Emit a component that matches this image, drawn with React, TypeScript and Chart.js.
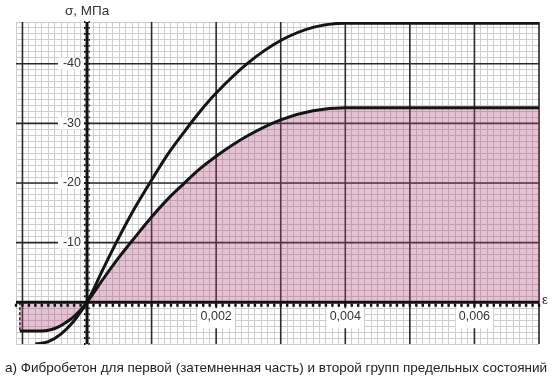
import React, { useEffect, useRef } from "react";
import { Chart, registerables } from "chart.js";

Chart.register(...registerables);

// strain (ε) and stress (σ, MPa) — first group (shaded) curve
const firstGroupStrain = [-0.00104, -0.0007, -0.0006, -0.0005, -0.0004, -0.0003, -0.0002, -0.0001, 0, 0.00025, 0.0005, 0.00075, 0.001, 0.00125, 0.0015, 0.00175, 0.002, 0.0025, 0.003, 0.0035, 0.004, 0.007];
const firstGroupStress = [4.8, 4.8, 4.7, 4.4, 3.9, 3.2, 2.35, 1.3, 0, -3.9, -7.6, -11.0, -14.3, -17.3, -19.9, -22.4, -24.5, -28.0, -30.6, -32.1, -32.6, -32.6];

// second group curve
const secondGroupStrain = [-0.0008, -0.0006, -0.0004, -0.0002, -0.0001, 0, 0.00025, 0.0005, 0.00075, 0.001, 0.00125, 0.0015, 0.00175, 0.002, 0.0025, 0.003, 0.0035, 0.004, 0.007];
const secondGroupStress = [7.0, 6.6, 5.3, 3.1, 1.6, 0, -5.6, -11.0, -16.0, -20.5, -24.8, -28.5, -32.0, -35.1, -40.2, -43.9, -46.1, -46.8, -46.8];

const xTickValues = [0.002, 0.004, 0.006];
const xTickLabels = ["0,002", "0,004", "0,006"];
const yTickValues = [-40, -30, -20, -10];
const yTickLabels = ["-40", "-30", "-20", "-10"];

const caption = "а) Фибробетон для первой (затемненная часть) и второй групп предельных состояний";
const xAxisTitle = "ε";
const yAxisTitle = "σ, МПа";

const FONT = "Arial, 'Liberation Sans', sans-serif";

const isMultiple = (v: number, step: number) => Math.abs(v / step - Math.round(v / step)) < 1e-6;

export default function App() {
  const ref = useRef<HTMLCanvasElement | null>(null);

  useEffect(() => {
    const canvas = ref.current;
    if (!canvas) return;

    const majorGrid = {
      id: "majorGrid",
      beforeDatasetsDraw(chart: any) {
        const { ctx, chartArea } = chart;
        const xs = chart.scales.x;
        const ys = chart.scales.y;
        ctx.save();
        ctx.strokeStyle = "#2a2a2a";
        ctx.lineWidth = 1.6;
        xs.ticks.forEach((t: any) => {
          if (!isMultiple(t.value, 0.001)) return;
          const px = xs.getPixelForValue(t.value);
          ctx.beginPath();
          ctx.moveTo(px, chartArea.top);
          ctx.lineTo(px, chartArea.bottom);
          ctx.stroke();
        });
        ys.ticks.forEach((t: any) => {
          if (!isMultiple(t.value, 10)) return;
          const py = ys.getPixelForValue(t.value);
          ctx.beginPath();
          ctx.moveTo(chartArea.left, py);
          ctx.lineTo(chartArea.right, py);
          ctx.stroke();
        });
        ctx.restore();
      },
    };

    const decorations = {
      id: "decorations",
      afterDatasetsDraw(chart: any) {
        const { ctx, chartArea } = chart;
        const xs = chart.scales.x;
        const ys = chart.scales.y;
        const x0 = xs.getPixelForValue(0);
        const y0 = ys.getPixelForValue(0);
        ctx.save();
        // dashed left edge of shaded region
        ctx.strokeStyle = "#222";
        ctx.lineWidth = 1.5;
        ctx.setLineDash([3, 2]);
        const dx = xs.getPixelForValue(firstGroupStrain[0]);
        ctx.beginPath();
        ctx.moveTo(dx, y0);
        ctx.lineTo(dx, ys.getPixelForValue(firstGroupStress[0]));
        ctx.stroke();
        ctx.setLineDash([]);

        // axes
        ctx.fillStyle = "#111";
        ctx.fillRect(chartArea.left, y0 - 1.5, chartArea.right - chartArea.left, 3);
        ctx.fillRect(x0 - 1.5, chartArea.top, 3, chartArea.bottom - chartArea.top);
        // tick marks on axes (minor steps)
        for (let i = -11; i <= 70; i++) {
          const px = xs.getPixelForValue(i * 0.0001);
          if (px < chartArea.left || px > chartArea.right) continue;
          ctx.fillRect(px - 1.2, y0 + 1.5, 2.4, 3);
        }
        for (let v = -47; v <= 7; v++) {
          const py = ys.getPixelForValue(v);
          ctx.fillRect(x0 - 3, py - 1, 1.5, 2);
          ctx.fillRect(x0 + 1.5, py - 1, 1.2, 2);
        }

        // tick labels with white background
        ctx.font = `12.5px ${FONT}`;
        ctx.textBaseline = "middle";
        yTickValues.forEach((v, i) => {
          const py = ys.getPixelForValue(v);
          const w = ctx.measureText(yTickLabels[i]).width;
          ctx.fillStyle = "#fff";
          ctx.fillRect(x0 - 7 - w - 4, py - 6, w + 8, 12);
          ctx.fillStyle = "#333";
          ctx.textAlign = "right";
          ctx.fillText(yTickLabels[i], x0 - 6, py);
        });
        xTickValues.forEach((v, i) => {
          const px = xs.getPixelForValue(v);
          const w = ctx.measureText(xTickLabels[i]).width;
          ctx.fillStyle = "#fff";
          ctx.fillRect(px - w / 2 - 3, y0 + 6, w + 6, 20);
          ctx.fillStyle = "#333";
          ctx.textAlign = "center";
          ctx.fillText(xTickLabels[i], px, y0 + 14);
        });

        // axis titles
        ctx.font = `13.5px ${FONT}`;
        ctx.fillStyle = "#333";
        ctx.textAlign = "left";
        ctx.fillText(xAxisTitle, chartArea.right + 3, y0 - 2);
        ctx.fillText(yAxisTitle, 65, 11);

        // caption
        ctx.font = `13.5px ${FONT}`;
        ctx.fillStyle = "#222";
        ctx.fillText(caption, 5, 368);
        ctx.restore();
      },
    };

    const chart = new Chart(canvas, {
      type: "scatter",
      data: {
        datasets: [
          {
            label: "first",
            data: firstGroupStrain.map((x, i) => ({ x, y: firstGroupStress[i] })),
            showLine: true,
            borderColor: "#141414",
            borderWidth: 3,
            pointRadius: 0,
            cubicInterpolationMode: "monotone",
            fill: "origin",
            backgroundColor: "rgba(175,70,120,0.33)",
          },
          {
            label: "second",
            data: secondGroupStrain.map((x, i) => ({ x, y: secondGroupStress[i] })),
            showLine: true,
            borderColor: "#141414",
            borderWidth: 3,
            pointRadius: 0,
            cubicInterpolationMode: "monotone",
            fill: false,
          },
        ],
      },
      options: {
        animation: false,
        responsive: false,
        maintainAspectRatio: false,
        layout: { padding: { left: 16, right: 18, top: 22, bottom: 38 } },
        plugins: { legend: { display: false }, tooltip: { enabled: false } },
        scales: {
          x: {
            type: "linear",
            min: -0.0011,
            max: 0.007,
            border: { display: false },
            ticks: { display: false, stepSize: 0.0001 },
            grid: { drawTicks: false, color: "#cdcdcd", lineWidth: 1 },
          },
          y: {
            type: "linear",
            min: -47,
            max: 7,
            reverse: true,
            border: { display: false },
            ticks: { display: false, stepSize: 1 },
            grid: { drawTicks: false, color: "#cdcdcd", lineWidth: 1 },
          },
        },
      },
      plugins: [majorGrid, decorations],
    } as any);

    return () => chart.destroy();
  }, []);

  return (
    <div style={{ position: "fixed", left: 0, top: 0, width: 557, height: 382, background: "#fff" }}>
      <canvas ref={ref} width={557} height={382} style={{ display: "block", width: 557, height: 382 }} />
    </div>
  );
}
